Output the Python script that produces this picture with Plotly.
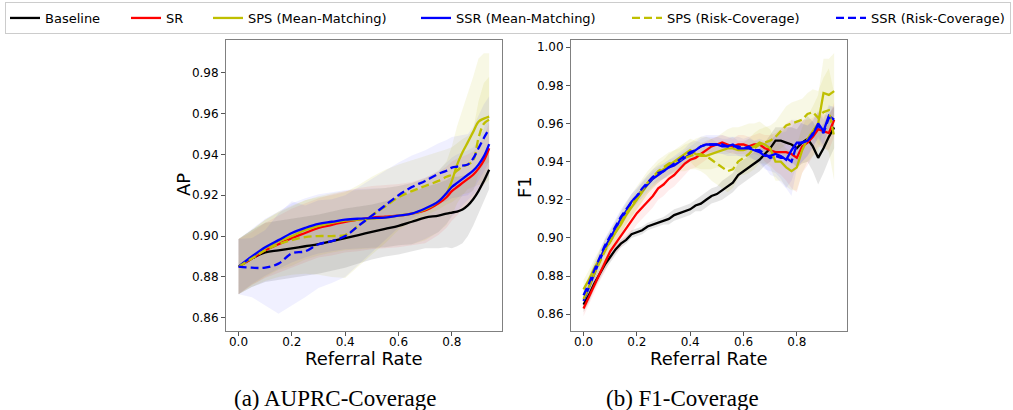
import plotly.graph_objects as go

# ---------------- data ----------------
series_names = ["Baseline", "SR", "SPS (Mean-Matching)", "SSR (Mean-Matching)",
                "SPS (Risk-Coverage)", "SSR (Risk-Coverage)"]
series_colors = ["#000000", "#ff0000", "#bfbf00", "#0000ff", "#bfbf00", "#0000ff"]
series_fill = ["rgba(0,0,0,0.10)", "rgba(255,0,0,0.07)", "rgba(191,191,0,0.10)",
               "rgba(0,0,255,0.06)", "rgba(191,191,0,0.10)", "rgba(0,0,255,0.06)"]
series_dash = ["solid", "solid", "solid", "solid", "8px,4px", "8px,4px"]
legend_widths = [76, 37, 163, 166, 159, None]

x_ticks = [0.0, 0.2, 0.4, 0.6, 0.8]
x_title = "Referral Rate"
y_titles = ["AP", "F1"]
captions = ["(a) AUPRC-Coverage", "(b) F1-Coverage"]

# (a) AUPRC-Coverage
ap_x = [0.00, 0.05, 0.10, 0.15, 0.20, 0.25, 0.30, 0.35, 0.40, 0.45, 0.50, 0.55, 0.60,
        0.65, 0.70, 0.75, 0.78, 0.80, 0.82, 0.84, 0.86, 0.88, 0.90, 0.92, 0.94]
ap_baseline = [0.885, 0.889, 0.892, 0.893, 0.894, 0.895, 0.896, 0.8975, 0.899, 0.9005, 0.902, 0.9035, 0.905,
               0.907, 0.909, 0.910, 0.911, 0.9115, 0.912, 0.913, 0.915, 0.918, 0.922, 0.927, 0.9325]
ap_sr = [0.885, 0.889, 0.893, 0.896, 0.899, 0.9015, 0.904, 0.9055, 0.907, 0.908, 0.909, 0.9095, 0.910,
         0.911, 0.9125, 0.916, 0.919, 0.922, 0.924, 0.926, 0.928, 0.930, 0.933, 0.937, 0.943]
ap_sps_mm = [0.885, 0.8895, 0.894, 0.8975, 0.900, 0.903, 0.905, 0.9065, 0.9075, 0.908, 0.9085, 0.909, 0.910,
             0.911, 0.913, 0.917, 0.921, 0.927, 0.935, 0.941, 0.946, 0.951, 0.956, 0.9575, 0.9585]
ap_ssr_mm = [0.885, 0.890, 0.8945, 0.898, 0.9015, 0.904, 0.906, 0.907, 0.908, 0.9085, 0.9088, 0.909, 0.910,
             0.911, 0.9135, 0.917, 0.921, 0.924, 0.926, 0.928, 0.930, 0.932, 0.935, 0.939, 0.945]
ap_sps_rc = [0.885, 0.889, 0.893, 0.896, 0.898, 0.8995, 0.900, 0.900, 0.9005, 0.905, 0.910, 0.9145, 0.919,
             0.922, 0.9245, 0.927, 0.929, 0.930, 0.932, 0.934, 0.935, 0.937, 0.948, 0.955, 0.957]
ap_ssr_rc = [0.885, 0.8845, 0.8845, 0.8865, 0.8915, 0.8925, 0.896, 0.8975, 0.900, 0.905, 0.910, 0.915, 0.920,
             0.924, 0.927, 0.9305, 0.932, 0.9335, 0.934, 0.9345, 0.935, 0.938, 0.943, 0.948, 0.9525]
ap_baseline_std = [0.0135, 0.014, 0.0145, 0.0145, 0.0145, 0.0145, 0.0145, 0.0145, 0.0145, 0.014, 0.0135, 0.0135, 0.014,
                   0.0145, 0.015, 0.016, 0.0165, 0.0175, 0.017, 0.0165, 0.015, 0.013, 0.011, 0.010, 0.0095]
ap_sr_std = [0.0135, 0.013, 0.0135, 0.014, 0.0145, 0.0145, 0.0145, 0.015, 0.015, 0.0155, 0.0155, 0.0155, 0.0155,
             0.0155, 0.016, 0.0155, 0.015, 0.0145, 0.014, 0.013, 0.012, 0.0115, 0.0115, 0.012, 0.0125]
ap_sps_mm_std = [0.0135, 0.0135, 0.014, 0.014, 0.0145, 0.0145, 0.0145, 0.0145, 0.0145, 0.0145, 0.0145, 0.0145, 0.0145,
                 0.015, 0.015, 0.015, 0.0155, 0.017, 0.019, 0.021, 0.023, 0.027, 0.031, 0.032, 0.031]
ap_ssr_mm_std = [0.0135, 0.0135, 0.014, 0.014, 0.0145, 0.0145, 0.0145, 0.0145, 0.0145, 0.0145, 0.0145, 0.0145, 0.0145,
                 0.015, 0.015, 0.015, 0.015, 0.0145, 0.014, 0.013, 0.012, 0.0115, 0.012, 0.0135, 0.0155]
ap_sps_rc_std = [0.0135, 0.014, 0.015, 0.016, 0.017, 0.018, 0.019, 0.020, 0.021, 0.020, 0.019, 0.018, 0.016,
                 0.015, 0.0145, 0.014, 0.0135, 0.0135, 0.0135, 0.0135, 0.014, 0.015, 0.018, 0.020, 0.021]
ap_ssr_rc_std = [0.0135, 0.0145, 0.0185, 0.0245, 0.0255, 0.0225, 0.0215, 0.0205, 0.020, 0.019, 0.018, 0.017, 0.016,
                 0.0155, 0.015, 0.015, 0.015, 0.015, 0.015, 0.015, 0.015, 0.0155, 0.016, 0.0165, 0.016]

# (b) F1-Coverage
f1_x = [0.00, 0.02, 0.04, 0.06, 0.08, 0.10, 0.12, 0.14, 0.16, 0.18, 0.20, 0.22, 0.24, 0.26, 0.28, 0.30,
        0.32, 0.34, 0.36, 0.38, 0.40, 0.42, 0.44, 0.46, 0.48, 0.50, 0.52, 0.54, 0.56, 0.58, 0.60, 0.62,
        0.64, 0.66, 0.68, 0.70, 0.72, 0.74, 0.76, 0.78, 0.80, 0.82, 0.84, 0.86, 0.88, 0.90, 0.92, 0.94]
f1_baseline = [0.865, 0.870, 0.876, 0.881, 0.886, 0.890, 0.894, 0.897, 0.899, 0.902, 0.903, 0.904, 0.906, 0.907,
               0.908, 0.909, 0.910, 0.912, 0.913, 0.914, 0.915, 0.917, 0.918, 0.920, 0.922, 0.923, 0.925, 0.927,
               0.929, 0.933, 0.935, 0.937, 0.939, 0.941, 0.944, 0.947, 0.951, 0.951, 0.950, 0.949, 0.947, 0.950,
               0.952, 0.948, 0.942, 0.947, 0.953, 0.958]
f1_sr = [0.863, 0.869, 0.875, 0.881, 0.887, 0.893, 0.897, 0.901, 0.905, 0.909, 0.913, 0.916, 0.919, 0.922,
         0.926, 0.928, 0.931, 0.933, 0.936, 0.939, 0.941, 0.942, 0.944, 0.946, 0.948, 0.949, 0.950, 0.949,
         0.948, 0.949, 0.949, 0.948, 0.949, 0.949, 0.947, 0.946, 0.945, 0.945, 0.945, 0.944, 0.942, 0.948,
         0.950, 0.953, 0.957, 0.956, 0.955, 0.962]
f1_sps_mm = [0.873, 0.878, 0.884, 0.889, 0.894, 0.898, 0.903, 0.907, 0.912, 0.916, 0.920, 0.924, 0.928, 0.931,
             0.934, 0.936, 0.938, 0.940, 0.942, 0.944, 0.946, 0.944, 0.943, 0.943, 0.944, 0.945, 0.946, 0.947,
             0.947, 0.946, 0.946, 0.947, 0.948, 0.950, 0.949, 0.947, 0.940, 0.940, 0.937, 0.935, 0.937, 0.946,
             0.952, 0.956, 0.960, 0.976, 0.975, 0.977]
f1_ssr_mm = [0.867, 0.874, 0.881, 0.888, 0.895, 0.900, 0.905, 0.910, 0.914, 0.919, 0.922, 0.925, 0.928, 0.931,
             0.933, 0.935, 0.937, 0.938, 0.940, 0.942, 0.944, 0.946, 0.948, 0.949, 0.949, 0.949, 0.948, 0.948,
             0.949, 0.947, 0.947, 0.947, 0.946, 0.945, 0.943, 0.943, 0.944, 0.943, 0.941, 0.946, 0.950, 0.950,
             0.951, 0.954, 0.960, 0.956, 0.964, 0.962]
f1_sps_rc = [0.868, 0.874, 0.881, 0.887, 0.893, 0.898, 0.903, 0.908, 0.913, 0.917, 0.921, 0.925, 0.929, 0.932,
             0.935, 0.937, 0.939, 0.940, 0.941, 0.942, 0.943, 0.944, 0.944, 0.943, 0.941, 0.939, 0.937, 0.935,
             0.936, 0.940, 0.942, 0.944, 0.947, 0.949, 0.950, 0.951, 0.953, 0.956, 0.959, 0.960, 0.961, 0.962,
             0.965, 0.966, 0.963, 0.966, 0.967, 0.953]
f1_ssr_rc = [0.870, 0.876, 0.883, 0.890, 0.896, 0.901, 0.906, 0.911, 0.915, 0.919, 0.922, 0.926, 0.929, 0.932,
             0.934, 0.935, 0.937, 0.939, 0.941, 0.943, 0.945, 0.946, 0.948, 0.949, 0.949, 0.949, 0.949, 0.948,
             0.948, 0.948, 0.947, 0.948, 0.946, 0.946, 0.944, 0.942, 0.943, 0.942, 0.942, 0.940, 0.949, 0.950,
             0.951, 0.955, 0.959, 0.955, 0.963, 0.963]
f1_baseline_std = [0.004, 0.004, 0.003, 0.003, 0.003, 0.003, 0.003, 0.002, 0.002, 0.002, 0.002, 0.002, 0.002, 0.002,
                   0.002, 0.002, 0.003, 0.003, 0.003, 0.003, 0.003, 0.003, 0.004, 0.004, 0.004, 0.004, 0.005, 0.005,
                   0.005, 0.006, 0.006, 0.006, 0.006, 0.006, 0.006, 0.007, 0.007, 0.007, 0.008, 0.009, 0.010, 0.011,
                   0.012, 0.013, 0.014, 0.013, 0.012, 0.011]
f1_sr_std = [0.004, 0.004, 0.004, 0.004, 0.005, 0.005, 0.005, 0.006, 0.006, 0.006, 0.006, 0.006, 0.006, 0.006,
             0.006, 0.006, 0.006, 0.006, 0.006, 0.006, 0.005, 0.005, 0.005, 0.005, 0.004, 0.004, 0.004, 0.004,
             0.004, 0.005, 0.005, 0.005, 0.005, 0.006, 0.007, 0.008, 0.010, 0.012, 0.015, 0.018, 0.018, 0.014,
             0.012, 0.010, 0.009, 0.009, 0.009, 0.009]
f1_sps_mm_std = [0.005, 0.005, 0.005, 0.005, 0.005, 0.005, 0.005, 0.005, 0.005, 0.005, 0.005, 0.005, 0.005, 0.005,
                 0.005, 0.005, 0.006, 0.006, 0.006, 0.006, 0.006, 0.007, 0.007, 0.007, 0.008, 0.008, 0.009, 0.010,
                 0.011, 0.012, 0.013, 0.013, 0.012, 0.011, 0.010, 0.010, 0.010, 0.010, 0.010, 0.010, 0.012, 0.012,
                 0.012, 0.013, 0.015, 0.018, 0.019, 0.020]
f1_ssr_mm_std = [0.004, 0.004, 0.004, 0.004, 0.004, 0.004, 0.004, 0.004, 0.004, 0.004, 0.004, 0.004, 0.004, 0.004,
                 0.004, 0.004, 0.004, 0.004, 0.004, 0.004, 0.004, 0.004, 0.004, 0.004, 0.004, 0.004, 0.004, 0.004,
                 0.004, 0.004, 0.004, 0.005, 0.005, 0.006, 0.007, 0.008, 0.010, 0.012, 0.015, 0.016, 0.012, 0.010,
                 0.008, 0.007, 0.007, 0.007, 0.006, 0.006]
f1_sps_rc_std = [0.006, 0.006, 0.006, 0.006, 0.006, 0.006, 0.006, 0.006, 0.006, 0.006, 0.006, 0.006, 0.006, 0.006,
                 0.006, 0.006, 0.006, 0.006, 0.006, 0.007, 0.007, 0.008, 0.009, 0.010, 0.011, 0.011, 0.011, 0.011,
                 0.010, 0.009, 0.008, 0.008, 0.008, 0.008, 0.008, 0.008, 0.008, 0.009, 0.010, 0.011, 0.011, 0.011,
                 0.011, 0.012, 0.014, 0.018, 0.022, 0.023]
f1_ssr_rc_std = [0.004, 0.004, 0.004, 0.004, 0.004, 0.004, 0.004, 0.004, 0.004, 0.004, 0.004, 0.004, 0.004, 0.004,
                 0.004, 0.004, 0.004, 0.004, 0.004, 0.004, 0.005, 0.005, 0.005, 0.005, 0.005, 0.005, 0.005, 0.005,
                 0.005, 0.005, 0.005, 0.005, 0.005, 0.006, 0.007, 0.009, 0.011, 0.013, 0.016, 0.018, 0.013, 0.010,
                 0.008, 0.007, 0.007, 0.007, 0.006, 0.006]

ap_means = [ap_baseline, ap_sr, ap_sps_mm, ap_ssr_mm, ap_sps_rc, ap_ssr_rc]
ap_stds = [ap_baseline_std, ap_sr_std, ap_sps_mm_std, ap_ssr_mm_std, ap_sps_rc_std, ap_ssr_rc_std]
f1_means = [f1_baseline, f1_sr, f1_sps_mm, f1_ssr_mm, f1_sps_rc, f1_ssr_rc]
f1_stds = [f1_baseline_std, f1_sr_std, f1_sps_mm_std, f1_ssr_mm_std, f1_sps_rc_std, f1_ssr_rc_std]

# ---------------- figure ----------------
W, H = 1013, 410
fig = go.Figure()


def add_panel(xs, means, stds, xa, ya, shape, show_legend):
    # shaded mean +/- std bands first
    for i in range(len(means)):
        up = [m + s for m, s in zip(means[i], stds[i])]
        lo = [m - s for m, s in zip(means[i], stds[i])]
        fig.add_trace(go.Scatter(
            x=list(xs) + list(xs)[::-1], y=up + lo[::-1], fill="toself",
            fillcolor=series_fill[i], line=dict(width=0, shape="linear"),
            mode="lines", hoverinfo="skip", showlegend=False, xaxis=xa, yaxis=ya))
    for i in range(len(means)):
        extra = {}
        if legend_widths[i] is not None:
            extra["legendwidth"] = legend_widths[i]
        fig.add_trace(go.Scatter(
            x=xs, y=means[i], mode="lines", name=series_names[i],
            legendgroup=series_names[i], showlegend=show_legend,
            line=dict(color=series_colors[i], width=2.3, dash=series_dash[i], shape=shape),
            xaxis=xa, yaxis=ya, **extra))


add_panel(ap_x, ap_means, ap_stds, "x", "y", "spline", True)
add_panel(f1_x, f1_means, f1_stds, "x2", "y2", "linear", False)

font_main = "DejaVu Sans, Verdana, sans-serif"
font_serif = "Liberation Serif, Times New Roman, serif"
axis_common = dict(showline=True, mirror=True, linecolor="#808080", linewidth=1,
                   ticks="outside", ticklen=4, tickwidth=1, tickcolor="#555555",
                   showgrid=False, zeroline=False,
                   tickfont=dict(family=font_main, size=12, color="#000000"))

y_bottom = 1 - 331 / H
y_top = 1 - 40 / H
dom_a = [226 / W, 501.7 / W]
dom_b = [571 / W, 846.7 / W]

title_font = dict(family=font_main, size=18, color="#000000")
annotations = [
    dict(text=x_title, x=sum(dom_a) / 2, y=1 - 358 / H, xref="paper", yref="paper",
         showarrow=False, xanchor="center", yanchor="middle", font=title_font),
    dict(text=x_title, x=sum(dom_b) / 2, y=1 - 358 / H, xref="paper", yref="paper",
         showarrow=False, xanchor="center", yanchor="middle", font=title_font),
    dict(text=y_titles[0], x=184 / W, y=1 - 185 / H, xref="paper", yref="paper", textangle=-90,
         showarrow=False, xanchor="center", yanchor="middle", font=title_font),
    dict(text=y_titles[1], x=525 / W, y=1 - 187 / H, xref="paper", yref="paper", textangle=-90,
         showarrow=False, xanchor="center", yanchor="middle", font=title_font),
    dict(text=captions[0], x=335 / W, y=1 - 398 / H, xref="paper", yref="paper",
         showarrow=False, xanchor="center", yanchor="middle",
         font=dict(family=font_serif, size=23, color="#000000")),
    dict(text=captions[1], x=682 / W, y=1 - 398 / H, xref="paper", yref="paper",
         showarrow=False, xanchor="center", yanchor="middle",
         font=dict(family=font_serif, size=23, color="#000000")),
]

fig.update_layout(
    width=W, height=H,
    margin=dict(l=0, r=0, t=0, b=0),
    paper_bgcolor="white", plot_bgcolor="white",
    font=dict(family=font_main, size=13, color="#000000"),
    xaxis=dict(domain=dom_a, range=[-0.047, 0.987], tickvals=x_ticks, ticklabelstandoff=-4,
               tickformat=".1f", anchor="y", **axis_common),
    yaxis=dict(domain=[y_bottom, y_top], range=[0.8535, 0.996], dtick=0.02, tick0=0.86,
               tickformat=".2f", anchor="x", **axis_common),
    xaxis2=dict(domain=dom_b, range=[-0.047, 0.987], tickvals=x_ticks, ticklabelstandoff=-4,
                tickformat=".1f", anchor="y2", **axis_common),
    yaxis2=dict(domain=[y_bottom, y_top], range=[0.8512, 1.0038], dtick=0.02, tick0=0.86,
                tickformat=".2f", anchor="x2", **axis_common),
    legend=dict(orientation="h", x=5 / W, y=1 - 2 / H, xanchor="left", yanchor="top",
                bordercolor="#cccccc", borderwidth=1, bgcolor="white",
                font=dict(family=font_main, size=13, color="#000000"),
                itemwidth=30, tracegroupgap=0),
    annotations=annotations,
)

fig.write_html("out.html", config={"displayModeBar": False},
               post_script="document.body.style.margin='0px';document.body.style.padding='0px';")
